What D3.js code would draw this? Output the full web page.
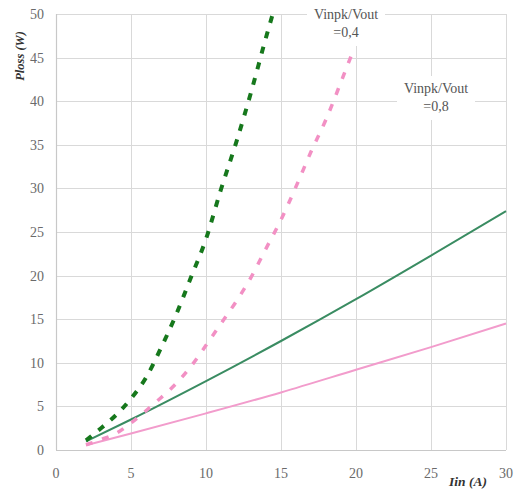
<!DOCTYPE html>
<html>
<head>
<meta charset="utf-8">
<script src="https://cdn.jsdelivr.net/npm/d3@7"></script>
<style>
  html, body { margin: 0; padding: 0; background: #fff; }
  svg { display: block; }
</style>
</head>
<body>
<svg id="chart" width="515" height="489"></svg>
<script>
// ---- data ----
const xTicks = [0, 5, 10, 15, 20, 25, 30];
const yTicks = [0, 5, 10, 15, 20, 25, 30, 35, 40, 45, 50];

const iinGreenDash  = [2, 3, 4, 5, 6, 7, 8, 9, 10, 11, 12, 13, 14, 14.45];
const plossGreenDash = [1.1, 2.5, 4.0, 5.9, 8.3, 11.7, 15.5, 19.8, 24.2, 29.9, 35.2, 41.0, 47.3, 50];

const iinPinkDash   = [2, 3, 4, 5, 6, 7, 8, 9, 10, 11, 12, 13, 14, 15, 16, 17, 18, 19, 19.7];
const plossPinkDash = [0.6, 1.2, 1.9, 3.1, 4.5, 6.0, 7.6, 9.6, 12.0, 14.5, 17.0, 19.8, 23.1, 26.4, 30.2, 34.2, 37.9, 42.2, 45.3];

const iinGreenSolid  = [2, 5, 10, 15, 20, 25, 30];
const plossGreenSolid = [1.0, 3.5, 7.9, 12.5, 17.3, 22.3, 27.4];

const iinPinkSolid  = [2, 5, 10, 15, 20, 25, 30];
const plossPinkSolid = [0.55, 1.9, 4.2, 6.6, 9.2, 11.8, 14.5];

const annotations = [
  { line1: "Vinpk/Vout", line2: "=0,4", x: 346, y: 14 },
  { line1: "Vinpk/Vout", line2: "=0,8", x: 436, y: 88 }
];

// ---- layout ----
const mLeft = 56, mRight = 506, mTop = 14, mBottom = 450;
const svg = d3.select("#chart");
const x = d3.scaleLinear().domain([0, 30]).range([mLeft, mRight]);
const y = d3.scaleLinear().domain([0, 50]).range([mBottom, mTop]);

const grid = "#d9d9d9";
const tickColor = "#6a6a6a";
const serif = "Liberation Serif, DejaVu Serif, serif";

// gridlines
svg.append("g").selectAll("line").data(yTicks.filter(d => d > 0)).join("line")
  .attr("x1", mLeft).attr("x2", mRight)
  .attr("y1", d => Math.round(y(d)) + 0.5).attr("y2", d => Math.round(y(d)) + 0.5)
  .attr("stroke", grid).attr("stroke-width", 1);
svg.append("g").selectAll("line").data(xTicks.filter(d => d > 0)).join("line")
  .attr("y1", mTop).attr("y2", mBottom)
  .attr("x1", d => Math.round(x(d)) + 0.5).attr("x2", d => Math.round(x(d)) + 0.5)
  .attr("stroke", grid).attr("stroke-width", 1);

// axes lines
svg.append("line").attr("x1", mLeft + 0.5).attr("x2", mLeft + 0.5).attr("y1", mTop).attr("y2", mBottom)
  .attr("stroke", "#c8c8c8").attr("stroke-width", 1.2);
svg.append("line").attr("x1", mLeft).attr("x2", mRight).attr("y1", mBottom + 0.5).attr("y2", mBottom + 0.5)
  .attr("stroke", "#c8c8c8").attr("stroke-width", 1.2);

// tick labels
svg.append("g").selectAll("text").data(yTicks).join("text")
  .attr("x", 44).attr("y", d => y(d)).attr("dy", "0.35em")
  .attr("text-anchor", "end")
  .attr("font-family", serif).attr("font-size", 14).attr("fill", tickColor)
  .text(d => d);
svg.append("g").selectAll("text").data(xTicks).join("text")
  .attr("x", d => x(d)).attr("y", 473).attr("dy", "0.35em")
  .attr("text-anchor", "middle")
  .attr("font-family", serif).attr("font-size", 14).attr("fill", tickColor)
  .text(d => d);

// axis titles
svg.append("text")
  .attr("transform", "translate(24,56) rotate(-90)")
  .attr("text-anchor", "middle")
  .attr("font-family", serif).attr("font-size", 12.5)
  .attr("font-weight", "bold").attr("font-style", "italic").attr("fill", "#333")
  .text("Ploss (W)");
svg.append("text")
  .attr("x", 468).attr("y", 486)
  .attr("text-anchor", "middle")
  .attr("font-family", serif).attr("font-size", 13.5)
  .attr("font-weight", "bold").attr("font-style", "italic").attr("fill", "#333")
  .text("Iin (A)");

// lines
const line = d3.line().x(d => x(d[0])).y(d => y(d[1])).curve(d3.curveMonotoneX);
const series = [
  { xs: iinPinkSolid, ys: plossPinkSolid, color: "#f29ccc", width: 2, dash: null },
  { xs: iinGreenSolid, ys: plossGreenSolid, color: "#3a8c62", width: 2, dash: null },
  { xs: iinPinkDash, ys: plossPinkDash, color: "#f290c4", width: 3.5, dash: "7,10" },
  { xs: iinGreenDash, ys: plossGreenDash, color: "#16781c", width: 4, dash: "7,9" }
];
series.forEach(s => {
  svg.append("path")
    .datum(s.xs.map((v, i) => [v, s.ys[i]]))
    .attr("d", line)
    .attr("fill", "none")
    .attr("stroke", s.color)
    .attr("stroke-width", s.width)
    .attr("stroke-dasharray", s.dash);
});

// annotations with white background
annotations.forEach(a => {
  const g = svg.append("g");
  g.append("rect").attr("x", a.x - 39).attr("y", a.y - 12).attr("width", 78).attr("height", 44).attr("fill", "#fff");
  g.append("text").attr("x", a.x).attr("y", a.y).attr("dy", "0.35em")
    .attr("text-anchor", "middle").attr("font-family", serif).attr("font-size", 14).attr("fill", "#555")
    .text(a.line1);
  g.append("text").attr("x", a.x).attr("y", a.y + 18).attr("dy", "0.35em")
    .attr("text-anchor", "middle").attr("font-family", serif).attr("font-size", 14).attr("fill", "#555")
    .text(a.line2);
});
</script>
</body>
</html>
